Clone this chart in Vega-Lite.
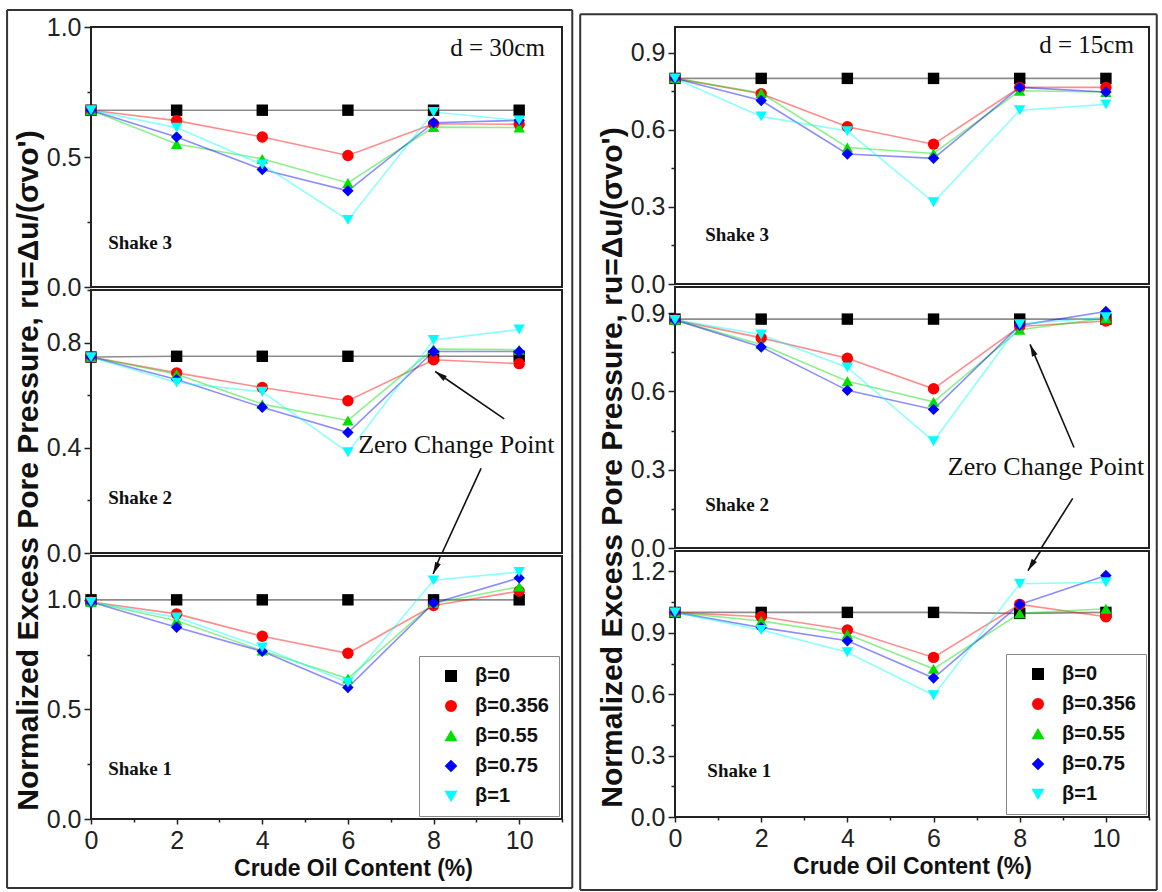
{
  "$schema": "https://vega.github.io/schema/vega-lite/v6.json",
  "padding": {"left": 5, "top": 8, "right": 0, "bottom": 0},
  "background": "white",
  "config": {
    "view": {"stroke": "#222", "strokeWidth": 2},
    "axis": {"grid": false, "domain": false, "labelFont": "Liberation Sans", "labelFontSize": 25, "labelColor": "#222", "tickColor": "#222", "tickWidth": 1.5, "labelOverlap": false, "labelFlush": false, "labelPadding": 3},
    "legend": {"symbolOpacity": 1}
  },
  "datasets": {
    "pts": [
      {"f":"L","s":3,"b":"β=0","x":0,"y":0.68},{"f":"L","s":3,"b":"β=0","x":2,"y":0.68},{"f":"L","s":3,"b":"β=0","x":4,"y":0.68},{"f":"L","s":3,"b":"β=0","x":6,"y":0.68},{"f":"L","s":3,"b":"β=0","x":8,"y":0.68},{"f":"L","s":3,"b":"β=0","x":10,"y":0.68},
      {"f":"L","s":3,"b":"β=0.356","x":0,"y":0.68},{"f":"L","s":3,"b":"β=0.356","x":2,"y":0.64},{"f":"L","s":3,"b":"β=0.356","x":4,"y":0.577},{"f":"L","s":3,"b":"β=0.356","x":6,"y":0.506},{"f":"L","s":3,"b":"β=0.356","x":8,"y":0.628},{"f":"L","s":3,"b":"β=0.356","x":10,"y":0.626},
      {"f":"L","s":3,"b":"β=0.55","x":0,"y":0.68},{"f":"L","s":3,"b":"β=0.55","x":2,"y":0.55},{"f":"L","s":3,"b":"β=0.55","x":4,"y":0.493},{"f":"L","s":3,"b":"β=0.55","x":6,"y":0.40},{"f":"L","s":3,"b":"β=0.55","x":8,"y":0.615},{"f":"L","s":3,"b":"β=0.55","x":10,"y":0.613},
      {"f":"L","s":3,"b":"β=0.75","x":0,"y":0.68},{"f":"L","s":3,"b":"β=0.75","x":2,"y":0.577},{"f":"L","s":3,"b":"β=0.75","x":4,"y":0.452},{"f":"L","s":3,"b":"β=0.75","x":6,"y":0.37},{"f":"L","s":3,"b":"β=0.75","x":8,"y":0.632},{"f":"L","s":3,"b":"β=0.75","x":10,"y":0.641},
      {"f":"L","s":3,"b":"β=1","x":0,"y":0.68},{"f":"L","s":3,"b":"β=1","x":2,"y":0.613},{"f":"L","s":3,"b":"β=1","x":4,"y":0.471},{"f":"L","s":3,"b":"β=1","x":6,"y":0.258},{"f":"L","s":3,"b":"β=1","x":8,"y":0.673},{"f":"L","s":3,"b":"β=1","x":10,"y":0.641},

      {"f":"L","s":2,"b":"β=0","x":0,"y":0.745},{"f":"L","s":2,"b":"β=0","x":2,"y":0.748},{"f":"L","s":2,"b":"β=0","x":4,"y":0.748},{"f":"L","s":2,"b":"β=0","x":6,"y":0.748},{"f":"L","s":2,"b":"β=0","x":8,"y":0.748},{"f":"L","s":2,"b":"β=0","x":10,"y":0.748},
      {"f":"L","s":2,"b":"β=0.356","x":0,"y":0.745},{"f":"L","s":2,"b":"β=0.356","x":2,"y":0.685},{"f":"L","s":2,"b":"β=0.356","x":4,"y":0.629},{"f":"L","s":2,"b":"β=0.356","x":6,"y":0.579},{"f":"L","s":2,"b":"β=0.356","x":8,"y":0.735},{"f":"L","s":2,"b":"β=0.356","x":10,"y":0.72},
      {"f":"L","s":2,"b":"β=0.55","x":0,"y":0.745},{"f":"L","s":2,"b":"β=0.55","x":2,"y":0.68},{"f":"L","s":2,"b":"β=0.55","x":4,"y":0.566},{"f":"L","s":2,"b":"β=0.55","x":6,"y":0.504},{"f":"L","s":2,"b":"β=0.55","x":8,"y":0.775},{"f":"L","s":2,"b":"β=0.55","x":10,"y":0.773},
      {"f":"L","s":2,"b":"β=0.75","x":0,"y":0.745},{"f":"L","s":2,"b":"β=0.75","x":2,"y":0.66},{"f":"L","s":2,"b":"β=0.75","x":4,"y":0.554},{"f":"L","s":2,"b":"β=0.75","x":6,"y":0.458},{"f":"L","s":2,"b":"β=0.75","x":8,"y":0.766},{"f":"L","s":2,"b":"β=0.75","x":10,"y":0.766},
      {"f":"L","s":2,"b":"β=1","x":0,"y":0.745},{"f":"L","s":2,"b":"β=1","x":2,"y":0.648},{"f":"L","s":2,"b":"β=1","x":4,"y":0.613},{"f":"L","s":2,"b":"β=1","x":6,"y":0.383},{"f":"L","s":2,"b":"β=1","x":8,"y":0.81},{"f":"L","s":2,"b":"β=1","x":10,"y":0.85},

      {"f":"L","s":1,"b":"β=0","x":0,"y":1.0},{"f":"L","s":1,"b":"β=0","x":2,"y":1.0},{"f":"L","s":1,"b":"β=0","x":4,"y":1.0},{"f":"L","s":1,"b":"β=0","x":6,"y":1.0},{"f":"L","s":1,"b":"β=0","x":8,"y":1.0},{"f":"L","s":1,"b":"β=0","x":10,"y":1.0},
      {"f":"L","s":1,"b":"β=0.356","x":0,"y":0.99},{"f":"L","s":1,"b":"β=0.356","x":2,"y":0.936},{"f":"L","s":1,"b":"β=0.356","x":4,"y":0.834},{"f":"L","s":1,"b":"β=0.356","x":6,"y":0.756},{"f":"L","s":1,"b":"β=0.356","x":8,"y":0.974},{"f":"L","s":1,"b":"β=0.356","x":10,"y":1.04},
      {"f":"L","s":1,"b":"β=0.55","x":0,"y":0.99},{"f":"L","s":1,"b":"β=0.55","x":2,"y":0.905},{"f":"L","s":1,"b":"β=0.55","x":4,"y":0.768},{"f":"L","s":1,"b":"β=0.55","x":6,"y":0.641},{"f":"L","s":1,"b":"β=0.55","x":8,"y":0.985},{"f":"L","s":1,"b":"β=0.55","x":10,"y":1.06},
      {"f":"L","s":1,"b":"β=0.75","x":0,"y":0.99},{"f":"L","s":1,"b":"β=0.75","x":2,"y":0.875},{"f":"L","s":1,"b":"β=0.75","x":4,"y":0.765},{"f":"L","s":1,"b":"β=0.75","x":6,"y":0.60},{"f":"L","s":1,"b":"β=0.75","x":8,"y":0.985},{"f":"L","s":1,"b":"β=0.75","x":10,"y":1.10},
      {"f":"L","s":1,"b":"β=1","x":0,"y":0.99},{"f":"L","s":1,"b":"β=1","x":2,"y":0.92},{"f":"L","s":1,"b":"β=1","x":4,"y":0.783},{"f":"L","s":1,"b":"β=1","x":6,"y":0.623},{"f":"L","s":1,"b":"β=1","x":8,"y":1.089},{"f":"L","s":1,"b":"β=1","x":10,"y":1.127},

      {"f":"R","s":3,"b":"β=0","x":0,"y":0.80},{"f":"R","s":3,"b":"β=0","x":2,"y":0.80},{"f":"R","s":3,"b":"β=0","x":4,"y":0.80},{"f":"R","s":3,"b":"β=0","x":6,"y":0.80},{"f":"R","s":3,"b":"β=0","x":8,"y":0.80},{"f":"R","s":3,"b":"β=0","x":10,"y":0.80},
      {"f":"R","s":3,"b":"β=0.356","x":0,"y":0.80},{"f":"R","s":3,"b":"β=0.356","x":2,"y":0.74},{"f":"R","s":3,"b":"β=0.356","x":4,"y":0.612},{"f":"R","s":3,"b":"β=0.356","x":6,"y":0.544},{"f":"R","s":3,"b":"β=0.356","x":8,"y":0.765},{"f":"R","s":3,"b":"β=0.356","x":10,"y":0.765},
      {"f":"R","s":3,"b":"β=0.55","x":0,"y":0.80},{"f":"R","s":3,"b":"β=0.55","x":2,"y":0.743},{"f":"R","s":3,"b":"β=0.55","x":4,"y":0.531},{"f":"R","s":3,"b":"β=0.55","x":6,"y":0.508},{"f":"R","s":3,"b":"β=0.55","x":8,"y":0.752},{"f":"R","s":3,"b":"β=0.55","x":10,"y":0.747},
      {"f":"R","s":3,"b":"β=0.75","x":0,"y":0.80},{"f":"R","s":3,"b":"β=0.75","x":2,"y":0.714},{"f":"R","s":3,"b":"β=0.75","x":4,"y":0.506},{"f":"R","s":3,"b":"β=0.75","x":6,"y":0.489},{"f":"R","s":3,"b":"β=0.75","x":8,"y":0.765},{"f":"R","s":3,"b":"β=0.75","x":10,"y":0.747},
      {"f":"R","s":3,"b":"β=1","x":0,"y":0.80},{"f":"R","s":3,"b":"β=1","x":2,"y":0.652},{"f":"R","s":3,"b":"β=1","x":4,"y":0.595},{"f":"R","s":3,"b":"β=1","x":6,"y":0.318},{"f":"R","s":3,"b":"β=1","x":8,"y":0.676},{"f":"R","s":3,"b":"β=1","x":10,"y":0.699},

      {"f":"R","s":2,"b":"β=0","x":0,"y":0.877},{"f":"R","s":2,"b":"β=0","x":2,"y":0.877},{"f":"R","s":2,"b":"β=0","x":4,"y":0.877},{"f":"R","s":2,"b":"β=0","x":6,"y":0.877},{"f":"R","s":2,"b":"β=0","x":8,"y":0.877},{"f":"R","s":2,"b":"β=0","x":10,"y":0.877},
      {"f":"R","s":2,"b":"β=0.356","x":0,"y":0.874},{"f":"R","s":2,"b":"β=0.356","x":2,"y":0.805},{"f":"R","s":2,"b":"β=0.356","x":4,"y":0.727},{"f":"R","s":2,"b":"β=0.356","x":6,"y":0.61},{"f":"R","s":2,"b":"β=0.356","x":8,"y":0.849},{"f":"R","s":2,"b":"β=0.356","x":10,"y":0.87},
      {"f":"R","s":2,"b":"β=0.55","x":0,"y":0.874},{"f":"R","s":2,"b":"β=0.55","x":2,"y":0.78},{"f":"R","s":2,"b":"β=0.55","x":4,"y":0.639},{"f":"R","s":2,"b":"β=0.55","x":6,"y":0.56},{"f":"R","s":2,"b":"β=0.55","x":8,"y":0.836},{"f":"R","s":2,"b":"β=0.55","x":10,"y":0.88},
      {"f":"R","s":2,"b":"β=0.75","x":0,"y":0.874},{"f":"R","s":2,"b":"β=0.75","x":2,"y":0.77},{"f":"R","s":2,"b":"β=0.75","x":4,"y":0.604},{"f":"R","s":2,"b":"β=0.75","x":6,"y":0.531},{"f":"R","s":2,"b":"β=0.75","x":8,"y":0.853},{"f":"R","s":2,"b":"β=0.75","x":10,"y":0.906},
      {"f":"R","s":2,"b":"β=1","x":0,"y":0.874},{"f":"R","s":2,"b":"β=1","x":2,"y":0.818},{"f":"R","s":2,"b":"β=1","x":4,"y":0.692},{"f":"R","s":2,"b":"β=1","x":6,"y":0.409},{"f":"R","s":2,"b":"β=1","x":8,"y":0.858},{"f":"R","s":2,"b":"β=1","x":10,"y":0.884},

      {"f":"R","s":1,"b":"β=0","x":0,"y":1.0},{"f":"R","s":1,"b":"β=0","x":2,"y":1.0},{"f":"R","s":1,"b":"β=0","x":4,"y":1.0},{"f":"R","s":1,"b":"β=0","x":6,"y":1.0},{"f":"R","s":1,"b":"β=0","x":8,"y":0.995},{"f":"R","s":1,"b":"β=0","x":10,"y":1.0},
      {"f":"R","s":1,"b":"β=0.356","x":0,"y":1.0},{"f":"R","s":1,"b":"β=0.356","x":2,"y":0.979},{"f":"R","s":1,"b":"β=0.356","x":4,"y":0.914},{"f":"R","s":1,"b":"β=0.356","x":6,"y":0.78},{"f":"R","s":1,"b":"β=0.356","x":8,"y":1.039},{"f":"R","s":1,"b":"β=0.356","x":10,"y":0.979},
      {"f":"R","s":1,"b":"β=0.55","x":0,"y":1.0},{"f":"R","s":1,"b":"β=0.55","x":2,"y":0.958},{"f":"R","s":1,"b":"β=0.55","x":4,"y":0.893},{"f":"R","s":1,"b":"β=0.55","x":6,"y":0.724},{"f":"R","s":1,"b":"β=0.55","x":8,"y":0.995},{"f":"R","s":1,"b":"β=0.55","x":10,"y":1.018},
      {"f":"R","s":1,"b":"β=0.75","x":0,"y":1.0},{"f":"R","s":1,"b":"β=0.75","x":2,"y":0.926},{"f":"R","s":1,"b":"β=0.75","x":4,"y":0.861},{"f":"R","s":1,"b":"β=0.75","x":6,"y":0.679},{"f":"R","s":1,"b":"β=0.75","x":8,"y":1.039},{"f":"R","s":1,"b":"β=0.75","x":10,"y":1.18},
      {"f":"R","s":1,"b":"β=1","x":0,"y":1.0},{"f":"R","s":1,"b":"β=1","x":2,"y":0.914},{"f":"R","s":1,"b":"β=1","x":4,"y":0.805},{"f":"R","s":1,"b":"β=1","x":6,"y":0.595},{"f":"R","s":1,"b":"β=1","x":8,"y":1.14},{"f":"R","s":1,"b":"β=1","x":10,"y":1.147}
    ],
    "notes": [
      {"f":"L","s":3,"k":"shake","x":0.4,"y":0.17,"t":"Shake 3"},
      {"f":"L","s":3,"k":"d","x":10.6,"y":0.92,"t":"d = 30cm"},
      {"f":"L","s":2,"k":"shake","x":0.4,"y":0.21,"t":"Shake 2"},
      {"f":"L","s":2,"k":"zcp","x":6.24,"y":0.41,"t":"Zero Change Point"},
      {"f":"L","s":1,"k":"shake","x":0.4,"y":0.23,"t":"Shake 1"},
      {"f":"R","s":3,"k":"shake","x":0.7,"y":0.19,"t":"Shake 3"},
      {"f":"R","s":3,"k":"d","x":10.65,"y":0.93,"t":"d = 15cm"},
      {"f":"R","s":2,"k":"shake","x":0.7,"y":0.165,"t":"Shake 2"},
      {"f":"R","s":2,"k":"zcp","x":6.33,"y":0.31,"t":"Zero Change Point"},
      {"f":"R","s":1,"k":"shake","x":0.75,"y":0.223,"t":"Shake 1"}
    ],
    "arrows": [
      {"f":"L","s":2,"x":9.65,"y":0.51,"x2":8.04,"y2":0.69},
      {"f":"L","s":2,"x":9.11,"y":0.322,"x2":8.2,"y2":0.0},
      {"f":"L","s":1,"x":8.16,"y":1.2,"x2":7.99,"y2":1.118},
      {"f":"R","s":2,"x":9.26,"y":0.385,"x2":8.24,"y2":0.78},
      {"f":"R","s":2,"x":9.23,"y":0.19,"x2":8.5,"y2":0.0},
      {"f":"R","s":1,"x":8.485,"y":1.3,"x2":8.19,"y2":1.204}
    ],
    "heads": [
      {"f":"L","s":2,"x":8.04,"y":0.69},
      {"f":"L","s":1,"x":7.99,"y":1.118},
      {"f":"R","s":2,"x":8.24,"y":0.78},
      {"f":"R","s":1,"x":8.19,"y":1.204}
    ],
    "frame": [
      {"f":"L","s":3,"x":-1.96,"y":1.065,"x2":11.24,"y2":1.065},
      {"f":"L","s":3,"x":-1.96,"y":1.065,"x2":-1.96,"y2":-0.012},
      {"f":"L","s":3,"x":11.24,"y":1.065,"x2":11.24,"y2":-0.012},
      {"f":"L","s":2,"x":-1.96,"y":1.0,"x2":-1.96,"y2":-0.012},
      {"f":"L","s":2,"x":11.24,"y":1.0,"x2":11.24,"y2":-0.012},
      {"f":"L","s":1,"x":-1.96,"y":1.2,"x2":-1.96,"y2":-0.315},
      {"f":"L","s":1,"x":11.24,"y":1.2,"x2":11.24,"y2":-0.315},
      {"f":"L","s":1,"x":-1.96,"y":-0.315,"x2":11.24,"y2":-0.315},
      {"f":"R","s":3,"x":-2.2,"y":1.05,"x2":11.18,"y2":1.05},
      {"f":"R","s":3,"x":-2.2,"y":1.05,"x2":-2.2,"y2":-0.012},
      {"f":"R","s":3,"x":11.18,"y":1.05,"x2":11.18,"y2":-0.012},
      {"f":"R","s":2,"x":-2.2,"y":1.0,"x2":-2.2,"y2":-0.012},
      {"f":"R","s":2,"x":11.18,"y":1.0,"x2":11.18,"y2":-0.012},
      {"f":"R","s":1,"x":-2.2,"y":1.3,"x2":-2.2,"y2":-0.357},
      {"f":"R","s":1,"x":11.18,"y":1.3,"x2":11.18,"y2":-0.357},
      {"f":"R","s":1,"x":-2.2,"y":-0.357,"x2":11.18,"y2":-0.357}
    ]
  },
  "spacing": 3,
  "resolve": {"scale": {"x": "independent", "y": "independent", "color": "independent", "shape": "independent"}},
  "hconcat": [
    {
      "spacing": 3,
      "bounds": "flush",
      "resolve": {"scale": {"x": "independent", "y": "independent", "color": "independent", "shape": "independent"}},
      "vconcat": [
        {
          "width": 471, "height": 260,
          "encoding": {
            "x": {"field": "x", "type": "quantitative", "scale": {"domain": [0, 11], "nice": false}, "axis": null},
            "y": {"field": "y", "type": "quantitative", "scale": {"domain": [0, 1], "nice": false, "zero": false},
                  "axis": {"title": null, "values": [0, 0.25, 0.5, 0.75, 1], "labelExpr": "round(datum.value*100)%50===0 ? format(datum.value,'.1f') : ''", "tickSize": {"condition": {"test": "round(datum.value*100)%50===0", "value": 7}, "value": 4}}}
          },
          "layer": [
            {"data": {"name": "frame"}, "transform": [{"filter": "datum.f==='L' && datum.s===3"}],
             "mark": {"type": "rule", "color": "#333", "strokeWidth": 2},
             "encoding": {"x2": {"field": "x2"}, "y2": {"field": "y2"}}},
            {"data": {"name": "pts"}, "transform": [{"filter": "datum.f==='L' && datum.s===3"}],
             "mark": {"type": "line", "strokeWidth": 1.6, "opacity": 0.45},
             "encoding": {"color": {"field": "b", "type": "nominal", "scale": {"domain": ["β=0","β=0.356","β=0.55","β=0.75","β=1"], "range": ["#000000","#ff0000","#00e000","#0000ff","#00ffff"]}, "legend": null}}},
            {"data": {"name": "pts"}, "transform": [{"filter": "datum.f==='L' && datum.s===3"}],
             "mark": {"type": "point", "filled": true, "size": 130, "opacity": 1},
             "encoding": {"color": {"field": "b", "type": "nominal", "scale": {"domain": ["β=0","β=0.356","β=0.55","β=0.75","β=1"], "range": ["#000000","#ff0000","#00e000","#0000ff","#00ffff"]}, "legend": null},
                          "shape": {"field": "b", "type": "nominal", "scale": {"domain": ["β=0","β=0.356","β=0.55","β=0.75","β=1"], "range": ["square","circle","triangle-up","diamond","triangle-down"]}, "legend": null}}},
            {"data": {"name": "notes"}, "transform": [{"filter": "datum.f==='L' && datum.s===3 && datum.k==='shake'"}],
             "mark": {"type": "text", "font": "Liberation Serif", "fontWeight": "bold", "fontSize": 19, "align": "left", "baseline": "middle", "color": "#111"},
             "encoding": {"text": {"field": "t"}}},
            {"data": {"name": "notes"}, "transform": [{"filter": "datum.f==='L' && datum.s===3 && datum.k==='d'"}],
             "mark": {"type": "text", "font": "Liberation Serif", "fontSize": 25, "align": "right", "baseline": "middle", "color": "#111"},
             "encoding": {"text": {"field": "t"}}}
          ]
        },
        {
          "width": 471, "height": 263,
          "encoding": {
            "x": {"field": "x", "type": "quantitative", "scale": {"domain": [0, 11], "nice": false}, "axis": null},
            "y": {"field": "y", "type": "quantitative", "scale": {"domain": [0, 1], "nice": false, "zero": false},
                  "axis": {"title": "Normalized Excess Pore Pressure,  ru=Δu/(σvo')", "titleFont": "Liberation Sans", "titleFontWeight": "bold", "titleFontSize": 30, "titleColor": "#111", "titlePadding": 3, "titleY": 180,
                           "values": [0, 0.2, 0.4, 0.6, 0.8, 1.0], "labelExpr": "round(datum.value*10)%4===0 ? format(datum.value,'.1f') : ''", "tickSize": {"condition": {"test": "round(datum.value*10)%4===0", "value": 7}, "value": 4}}}
          },
          "layer": [
            {"data": {"name": "frame"}, "transform": [{"filter": "datum.f==='L' && datum.s===2"}],
             "mark": {"type": "rule", "color": "#333", "strokeWidth": 2},
             "encoding": {"x2": {"field": "x2"}, "y2": {"field": "y2"}}},
            {"data": {"name": "pts"}, "transform": [{"filter": "datum.f==='L' && datum.s===2"}],
             "mark": {"type": "line", "strokeWidth": 1.6, "opacity": 0.45},
             "encoding": {"color": {"field": "b", "type": "nominal", "scale": {"domain": ["β=0","β=0.356","β=0.55","β=0.75","β=1"], "range": ["#000000","#ff0000","#00e000","#0000ff","#00ffff"]}, "legend": null}}},
            {"data": {"name": "pts"}, "transform": [{"filter": "datum.f==='L' && datum.s===2"}],
             "mark": {"type": "point", "filled": true, "size": 130, "opacity": 1},
             "encoding": {"color": {"field": "b", "type": "nominal", "scale": {"domain": ["β=0","β=0.356","β=0.55","β=0.75","β=1"], "range": ["#000000","#ff0000","#00e000","#0000ff","#00ffff"]}, "legend": null},
                          "shape": {"field": "b", "type": "nominal", "scale": {"domain": ["β=0","β=0.356","β=0.55","β=0.75","β=1"], "range": ["square","circle","triangle-up","diamond","triangle-down"]}, "legend": null}}},
            {"data": {"name": "notes"}, "transform": [{"filter": "datum.f==='L' && datum.s===2 && datum.k==='shake'"}],
             "mark": {"type": "text", "font": "Liberation Serif", "fontWeight": "bold", "fontSize": 19, "align": "left", "baseline": "middle", "color": "#111"},
             "encoding": {"text": {"field": "t"}}},
            {"data": {"name": "notes"}, "transform": [{"filter": "datum.f==='L' && datum.s===2 && datum.k==='zcp'"}],
             "mark": {"type": "text", "font": "Liberation Serif", "fontSize": 26, "align": "left", "baseline": "middle", "color": "#111"},
             "encoding": {"text": {"field": "t"}}},
            {"data": {"name": "arrows"}, "transform": [{"filter": "datum.f==='L' && datum.s===2"}],
             "mark": {"type": "rule", "color": "#111", "strokeWidth": 1.6},
             "encoding": {"x2": {"field": "x2"}, "y2": {"field": "y2"}}},
            {"data": {"name": "heads"}, "transform": [{"filter": "datum.f==='L' && datum.s===2"}],
             "mark": {"type": "point", "shape": "M0,0L-0.55,2.2L0.55,2.2Z", "filled": true, "color": "#111", "size": 120, "angle": 305, "opacity": 1}}
          ]
        },
        {
          "width": 471, "height": 263,
          "encoding": {
            "x": {"field": "x", "type": "quantitative", "scale": {"domain": [0, 11], "nice": false},
                  "axis": {"title": "Crude Oil Content (%)", "titleFont": "Liberation Sans", "titleFontWeight": "bold", "titleFontSize": 23, "titleColor": "#111", "titlePadding": 4, "titleX": 262, "labelPadding": 4,
                           "values": [0,1,2,3,4,5,6,7,8,9,10,11], "labelExpr": "datum.value%2===0 ? datum.label : ''", "tickSize": {"condition": {"test": "datum.value%2===0", "value": 5}, "value": 3}}},
            "y": {"field": "y", "type": "quantitative", "scale": {"domain": [0, 1.2], "nice": false, "zero": false},
                  "axis": {"title": null, "values": [0, 0.25, 0.5, 0.75, 1], "labelExpr": "round(datum.value*100)%50===0 ? format(datum.value,'.1f') : ''", "tickSize": {"condition": {"test": "round(datum.value*100)%50===0", "value": 7}, "value": 4}}}
          },
          "layer": [
            {"data": {"name": "frame"}, "transform": [{"filter": "datum.f==='L' && datum.s===1"}],
             "mark": {"type": "rule", "color": "#333", "strokeWidth": 2},
             "encoding": {"x2": {"field": "x2"}, "y2": {"field": "y2"}}},
            {"data": {"name": "pts"}, "transform": [{"filter": "datum.f==='L' && datum.s===1"}],
             "mark": {"type": "line", "strokeWidth": 1.6, "opacity": 0.45},
             "encoding": {"color": {"field": "b", "type": "nominal", "scale": {"domain": ["β=0","β=0.356","β=0.55","β=0.75","β=1"], "range": ["#000000","#ff0000","#00e000","#0000ff","#00ffff"]}}}},
            {"data": {"name": "pts"}, "transform": [{"filter": "datum.f==='L' && datum.s===1"}],
             "mark": {"type": "point", "filled": true, "size": 130, "opacity": 1},
             "encoding": {"color": {"field": "b", "type": "nominal", "scale": {"domain": ["β=0","β=0.356","β=0.55","β=0.75","β=1"], "range": ["#000000","#ff0000","#00e000","#0000ff","#00ffff"]},
                                    "legend": {"orient": "bottom-right", "offset": 3, "title": null, "labelFont": "Liberation Sans", "labelFontWeight": "bold", "labelFontSize": 20, "labelColor": "#111", "symbolSize": 110, "symbolOpacity": 1, "strokeColor": "#888", "fillColor": "white", "padding": 10, "rowPadding": 10, "labelOffset": 14, "symbolOffset": 12}},
                          "shape": {"field": "b", "type": "nominal", "scale": {"domain": ["β=0","β=0.356","β=0.55","β=0.75","β=1"], "range": ["square","circle","triangle-up","diamond","triangle-down"]},
                                    "legend": {"orient": "bottom-right", "offset": 3, "title": null, "labelFont": "Liberation Sans", "labelFontWeight": "bold", "labelFontSize": 20, "labelColor": "#111", "symbolSize": 110, "symbolOpacity": 1, "strokeColor": "#888", "fillColor": "white", "padding": 10, "rowPadding": 10, "labelOffset": 14, "symbolOffset": 12}}}},
            {"data": {"name": "notes"}, "transform": [{"filter": "datum.f==='L' && datum.s===1 && datum.k==='shake'"}],
             "mark": {"type": "text", "font": "Liberation Serif", "fontWeight": "bold", "fontSize": 19, "align": "left", "baseline": "middle", "color": "#111"},
             "encoding": {"text": {"field": "t"}}},
            {"data": {"name": "arrows"}, "transform": [{"filter": "datum.f==='L' && datum.s===1"}],
             "mark": {"type": "rule", "color": "#111", "strokeWidth": 1.6},
             "encoding": {"x2": {"field": "x2"}, "y2": {"field": "y2"}}},
            {"data": {"name": "heads"}, "transform": [{"filter": "datum.f==='L' && datum.s===1"}],
             "mark": {"type": "point", "shape": "M0,0L-0.55,2.2L0.55,2.2Z", "filled": true, "color": "#111", "size": 120, "angle": 204, "opacity": 1}}
          ]
        }
      ]
    },
    {
      "spacing": 3,
      "bounds": "flush",
      "resolve": {"scale": {"x": "independent", "y": "independent", "color": "independent", "shape": "independent"}},
      "vconcat": [
        {
          "width": 474, "height": 257,
          "encoding": {
            "x": {"field": "x", "type": "quantitative", "scale": {"domain": [0, 11], "nice": false}, "axis": null},
            "y": {"field": "y", "type": "quantitative", "scale": {"domain": [0, 1], "nice": false, "zero": false},
                  "axis": {"title": null, "values": [0, 0.15, 0.3, 0.45, 0.6, 0.75, 0.9], "labelExpr": "round(datum.value*100)%30===0 ? format(datum.value,'.1f') : ''", "tickSize": {"condition": {"test": "round(datum.value*100)%30===0", "value": 7}, "value": 4}}}
          },
          "layer": [
            {"data": {"name": "frame"}, "transform": [{"filter": "datum.f==='R' && datum.s===3"}],
             "mark": {"type": "rule", "color": "#333", "strokeWidth": 2},
             "encoding": {"x2": {"field": "x2"}, "y2": {"field": "y2"}}},
            {"data": {"name": "pts"}, "transform": [{"filter": "datum.f==='R' && datum.s===3"}],
             "mark": {"type": "line", "strokeWidth": 1.6, "opacity": 0.45},
             "encoding": {"color": {"field": "b", "type": "nominal", "scale": {"domain": ["β=0","β=0.356","β=0.55","β=0.75","β=1"], "range": ["#000000","#ff0000","#00e000","#0000ff","#00ffff"]}, "legend": null}}},
            {"data": {"name": "pts"}, "transform": [{"filter": "datum.f==='R' && datum.s===3"}],
             "mark": {"type": "point", "filled": true, "size": 130, "opacity": 1},
             "encoding": {"color": {"field": "b", "type": "nominal", "scale": {"domain": ["β=0","β=0.356","β=0.55","β=0.75","β=1"], "range": ["#000000","#ff0000","#00e000","#0000ff","#00ffff"]}, "legend": null},
                          "shape": {"field": "b", "type": "nominal", "scale": {"domain": ["β=0","β=0.356","β=0.55","β=0.75","β=1"], "range": ["square","circle","triangle-up","diamond","triangle-down"]}, "legend": null}}},
            {"data": {"name": "notes"}, "transform": [{"filter": "datum.f==='R' && datum.s===3 && datum.k==='shake'"}],
             "mark": {"type": "text", "font": "Liberation Serif", "fontWeight": "bold", "fontSize": 19, "align": "left", "baseline": "middle", "color": "#111"},
             "encoding": {"text": {"field": "t"}}},
            {"data": {"name": "notes"}, "transform": [{"filter": "datum.f==='R' && datum.s===3 && datum.k==='d'"}],
             "mark": {"type": "text", "font": "Liberation Serif", "fontSize": 25, "align": "right", "baseline": "middle", "color": "#111"},
             "encoding": {"text": {"field": "t"}}}
          ]
        },
        {
          "width": 474, "height": 261,
          "encoding": {
            "x": {"field": "x", "type": "quantitative", "scale": {"domain": [0, 11], "nice": false}, "axis": null},
            "y": {"field": "y", "type": "quantitative", "scale": {"domain": [0, 1], "nice": false, "zero": false},
                  "axis": {"title": "Normalized Excess Pore Pressure,  ru=Δu/(σvo')", "titleFont": "Liberation Sans", "titleFontWeight": "bold", "titleFontSize": 30, "titleColor": "#111", "titlePadding": 3, "titleY": 180,
                           "values": [0, 0.15, 0.3, 0.45, 0.6, 0.75, 0.9], "labelExpr": "round(datum.value*100)%30===0 ? format(datum.value,'.1f') : ''", "tickSize": {"condition": {"test": "round(datum.value*100)%30===0", "value": 7}, "value": 4}}}
          },
          "layer": [
            {"data": {"name": "frame"}, "transform": [{"filter": "datum.f==='R' && datum.s===2"}],
             "mark": {"type": "rule", "color": "#333", "strokeWidth": 2},
             "encoding": {"x2": {"field": "x2"}, "y2": {"field": "y2"}}},
            {"data": {"name": "pts"}, "transform": [{"filter": "datum.f==='R' && datum.s===2"}],
             "mark": {"type": "line", "strokeWidth": 1.6, "opacity": 0.45},
             "encoding": {"color": {"field": "b", "type": "nominal", "scale": {"domain": ["β=0","β=0.356","β=0.55","β=0.75","β=1"], "range": ["#000000","#ff0000","#00e000","#0000ff","#00ffff"]}, "legend": null}}},
            {"data": {"name": "pts"}, "transform": [{"filter": "datum.f==='R' && datum.s===2"}],
             "mark": {"type": "point", "filled": true, "size": 130, "opacity": 1},
             "encoding": {"color": {"field": "b", "type": "nominal", "scale": {"domain": ["β=0","β=0.356","β=0.55","β=0.75","β=1"], "range": ["#000000","#ff0000","#00e000","#0000ff","#00ffff"]}, "legend": null},
                          "shape": {"field": "b", "type": "nominal", "scale": {"domain": ["β=0","β=0.356","β=0.55","β=0.75","β=1"], "range": ["square","circle","triangle-up","diamond","triangle-down"]}, "legend": null}}},
            {"data": {"name": "notes"}, "transform": [{"filter": "datum.f==='R' && datum.s===2 && datum.k==='shake'"}],
             "mark": {"type": "text", "font": "Liberation Serif", "fontWeight": "bold", "fontSize": 19, "align": "left", "baseline": "middle", "color": "#111"},
             "encoding": {"text": {"field": "t"}}},
            {"data": {"name": "notes"}, "transform": [{"filter": "datum.f==='R' && datum.s===2 && datum.k==='zcp'"}],
             "mark": {"type": "text", "font": "Liberation Serif", "fontSize": 26, "align": "left", "baseline": "middle", "color": "#111"},
             "encoding": {"text": {"field": "t"}}},
            {"data": {"name": "arrows"}, "transform": [{"filter": "datum.f==='R' && datum.s===2"}],
             "mark": {"type": "rule", "color": "#111", "strokeWidth": 1.6},
             "encoding": {"x2": {"field": "x2"}, "y2": {"field": "y2"}}},
            {"data": {"name": "heads"}, "transform": [{"filter": "datum.f==='R' && datum.s===2"}],
             "mark": {"type": "point", "shape": "M0,0L-0.55,2.2L0.55,2.2Z", "filled": true, "color": "#111", "size": 120, "angle": 337, "opacity": 1}}
          ]
        },
        {
          "width": 474, "height": 266,
          "encoding": {
            "x": {"field": "x", "type": "quantitative", "scale": {"domain": [0, 11], "nice": false},
                  "axis": {"title": "Crude Oil Content (%)", "titleFont": "Liberation Sans", "titleFontWeight": "bold", "titleFontSize": 23, "titleColor": "#111", "titlePadding": 4, "labelPadding": 4,
                           "values": [0,1,2,3,4,5,6,7,8,9,10,11], "labelExpr": "datum.value%2===0 ? datum.label : ''", "tickSize": {"condition": {"test": "datum.value%2===0", "value": 5}, "value": 3}}},
            "y": {"field": "y", "type": "quantitative", "scale": {"domain": [0, 1.3], "nice": false, "zero": false},
                  "axis": {"title": null, "values": [0, 0.15, 0.3, 0.45, 0.6, 0.75, 0.9, 1.05, 1.2], "labelExpr": "round(datum.value*100)%30===0 ? format(datum.value,'.1f') : ''", "tickSize": {"condition": {"test": "round(datum.value*100)%30===0", "value": 7}, "value": 4}}}
          },
          "layer": [
            {"data": {"name": "frame"}, "transform": [{"filter": "datum.f==='R' && datum.s===1"}],
             "mark": {"type": "rule", "color": "#333", "strokeWidth": 2},
             "encoding": {"x2": {"field": "x2"}, "y2": {"field": "y2"}}},
            {"data": {"name": "pts"}, "transform": [{"filter": "datum.f==='R' && datum.s===1"}],
             "mark": {"type": "line", "strokeWidth": 1.6, "opacity": 0.45},
             "encoding": {"color": {"field": "b", "type": "nominal", "scale": {"domain": ["β=0","β=0.356","β=0.55","β=0.75","β=1"], "range": ["#000000","#ff0000","#00e000","#0000ff","#00ffff"]}}}},
            {"data": {"name": "pts"}, "transform": [{"filter": "datum.f==='R' && datum.s===1"}],
             "mark": {"type": "point", "filled": true, "size": 130, "opacity": 1},
             "encoding": {"color": {"field": "b", "type": "nominal", "scale": {"domain": ["β=0","β=0.356","β=0.55","β=0.75","β=1"], "range": ["#000000","#ff0000","#00e000","#0000ff","#00ffff"]},
                                    "legend": {"orient": "bottom-right", "offset": 3, "title": null, "labelFont": "Liberation Sans", "labelFontWeight": "bold", "labelFontSize": 20, "labelColor": "#111", "symbolSize": 110, "symbolOpacity": 1, "strokeColor": "#888", "fillColor": "white", "padding": 10, "rowPadding": 10, "labelOffset": 14, "symbolOffset": 12}},
                          "shape": {"field": "b", "type": "nominal", "scale": {"domain": ["β=0","β=0.356","β=0.55","β=0.75","β=1"], "range": ["square","circle","triangle-up","diamond","triangle-down"]},
                                    "legend": {"orient": "bottom-right", "offset": 3, "title": null, "labelFont": "Liberation Sans", "labelFontWeight": "bold", "labelFontSize": 20, "labelColor": "#111", "symbolSize": 110, "symbolOpacity": 1, "strokeColor": "#888", "fillColor": "white", "padding": 10, "rowPadding": 10, "labelOffset": 14, "symbolOffset": 12}}}},
            {"data": {"name": "notes"}, "transform": [{"filter": "datum.f==='R' && datum.s===1 && datum.k==='shake'"}],
             "mark": {"type": "text", "font": "Liberation Serif", "fontWeight": "bold", "fontSize": 19, "align": "left", "baseline": "middle", "color": "#111"},
             "encoding": {"text": {"field": "t"}}},
            {"data": {"name": "arrows"}, "transform": [{"filter": "datum.f==='R' && datum.s===1"}],
             "mark": {"type": "rule", "color": "#111", "strokeWidth": 1.6},
             "encoding": {"x2": {"field": "x2"}, "y2": {"field": "y2"}}},
            {"data": {"name": "heads"}, "transform": [{"filter": "datum.f==='R' && datum.s===1"}],
             "mark": {"type": "point", "shape": "M0,0L-0.55,2.2L0.55,2.2Z", "filled": true, "color": "#111", "size": 120, "angle": 212, "opacity": 1}}
          ]
        }
      ]
    }
  ]
}
